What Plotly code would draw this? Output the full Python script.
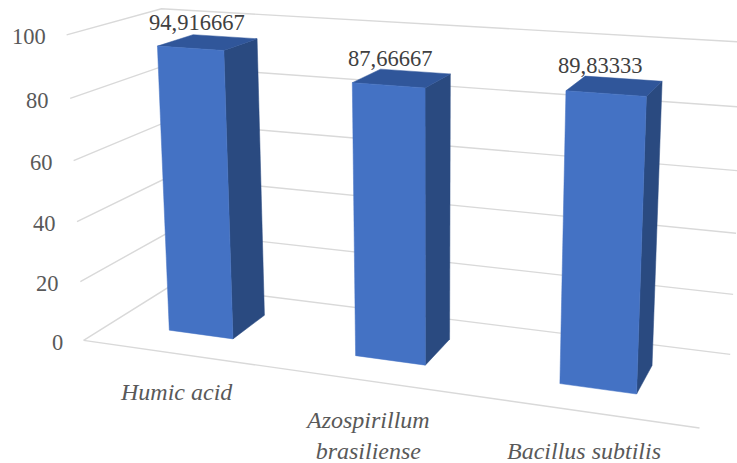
import numpy as np
import plotly.graph_objects as go

categories = ["Humic acid", "Azospirillum<br>brasiliense", "Bacillus subtilis"]
values = [94.916667, 87.66667, 89.83333]
value_labels = ["94,916667", "87,66667", "89,83333"]
ticks = [0, 20, 40, 60, 80, 100]

FRONT, SIDE, TOP = "#4472C4", "#2A4A80", "#30569A"
GRID = "#D9D9D9"
TICK_TEXT, VALUE_TEXT = "#595959", "#404040"
SERIF = "Liberation Serif"
WIDTH, HEIGHT = 737, 463

# Chart box: categories along x (0..3), depth along y (0..1), value along z (0..100)
N_CATS, AXIS_MAX = 3, 100
HALF_W, Y_FRONT, Y_BACK = 0.176, 0.30, 0.70

# Homogeneous camera matrix for the oblique view (z measured in fractions of the axis)
CAMERA = np.array([
    [173.92741, 108.58839, -20.05608, 83.60949],
    [10.00006, -23.87327, -307.18747, 340.41995],
    [-0.04485, 0.11230, -0.04650, 1.0],
])

VALUE_DX = [-11, -12, -15]
VALUE_DY = 20
CAT_DX = [2, -2, 0]
CAT_DY = 24


def project(x, y, z):
    u, v, w = CAMERA @ np.array([x, y, z / AXIS_MAX, 1.0])
    return u / w, v / w


def polyline(points):
    pts = [project(*p) for p in points]
    return [p[0] for p in pts], [p[1] for p in pts]


def add_grid(fig, points):
    xs, ys = polyline(points)
    fig.add_trace(go.Scatter(x=xs, y=ys, mode="lines", line=dict(color=GRID, width=1.4),
                             hoverinfo="skip", showlegend=False))


def add_face(fig, points, color):
    xs, ys = polyline(points + points[:1])
    fig.add_trace(go.Scatter(x=xs, y=ys, mode="lines", fill="toself", fillcolor=color,
                             line=dict(color=color, width=0.5),
                             hoverinfo="skip", showlegend=False))


fig = go.Figure()

# Gridlines on the left and back walls, and the front edge of the floor
for t in ticks:
    add_grid(fig, [(0, 0, t), (0, 1, t), (N_CATS, 1, t)])
add_grid(fig, [(0, 0, 0), (N_CATS, 0, 0)])

# Each column shows its right side, its top and its front
for n, v in enumerate(values):
    x0, x1 = n + 0.5 - HALF_W, n + 0.5 + HALF_W
    add_face(fig, [(x1, Y_FRONT, 0), (x1, Y_BACK, 0), (x1, Y_BACK, v), (x1, Y_FRONT, v)], SIDE)
    add_face(fig, [(x0, Y_FRONT, v), (x1, Y_FRONT, v), (x1, Y_BACK, v), (x0, Y_BACK, v)], TOP)
    add_face(fig, [(x0, Y_FRONT, 0), (x1, Y_FRONT, 0), (x1, Y_FRONT, v), (x0, Y_FRONT, v)], FRONT)

notes = []
for t in ticks:
    u, v = project(0, 0, t)
    notes.append(dict(x=u, y=v, text=str(t), xanchor="right", yanchor="middle", xshift=-19, yshift=-2,
                      showarrow=False, font=dict(family=SERIF, size=22.5, color=TICK_TEXT)))
for n, val in enumerate(values):
    u, v = project(n + 0.5, 0.5, val)
    notes.append(dict(x=u, y=v, text=value_labels[n], xanchor="center", yanchor="middle",
                      xshift=VALUE_DX[n], yshift=VALUE_DY,
                      showarrow=False, font=dict(family=SERIF, size=22.5, color=VALUE_TEXT)))
for n, cat in enumerate(categories):
    u, v = project(n + 0.5, 0, 0)
    notes.append(dict(x=u, y=v, text=f"<i>{cat.replace('<br>', '</i><br><i>')}</i>", xanchor="center", yanchor="top",
                      xshift=CAT_DX[n], yshift=-CAT_DY, align="center",
                      showarrow=False, font=dict(family=SERIF, size=24, color=TICK_TEXT)))

fig.update_layout(
    width=WIDTH, height=HEIGHT, margin=dict(l=0, r=0, t=0, b=0),
    paper_bgcolor="white", plot_bgcolor="white", showlegend=False,
    xaxis=dict(range=[0, WIDTH], visible=False, fixedrange=True),
    yaxis=dict(range=[HEIGHT, 0], visible=False, fixedrange=True),
    annotations=notes,
)
fig.write_html("out.html", config=dict(displayModeBar=False))
